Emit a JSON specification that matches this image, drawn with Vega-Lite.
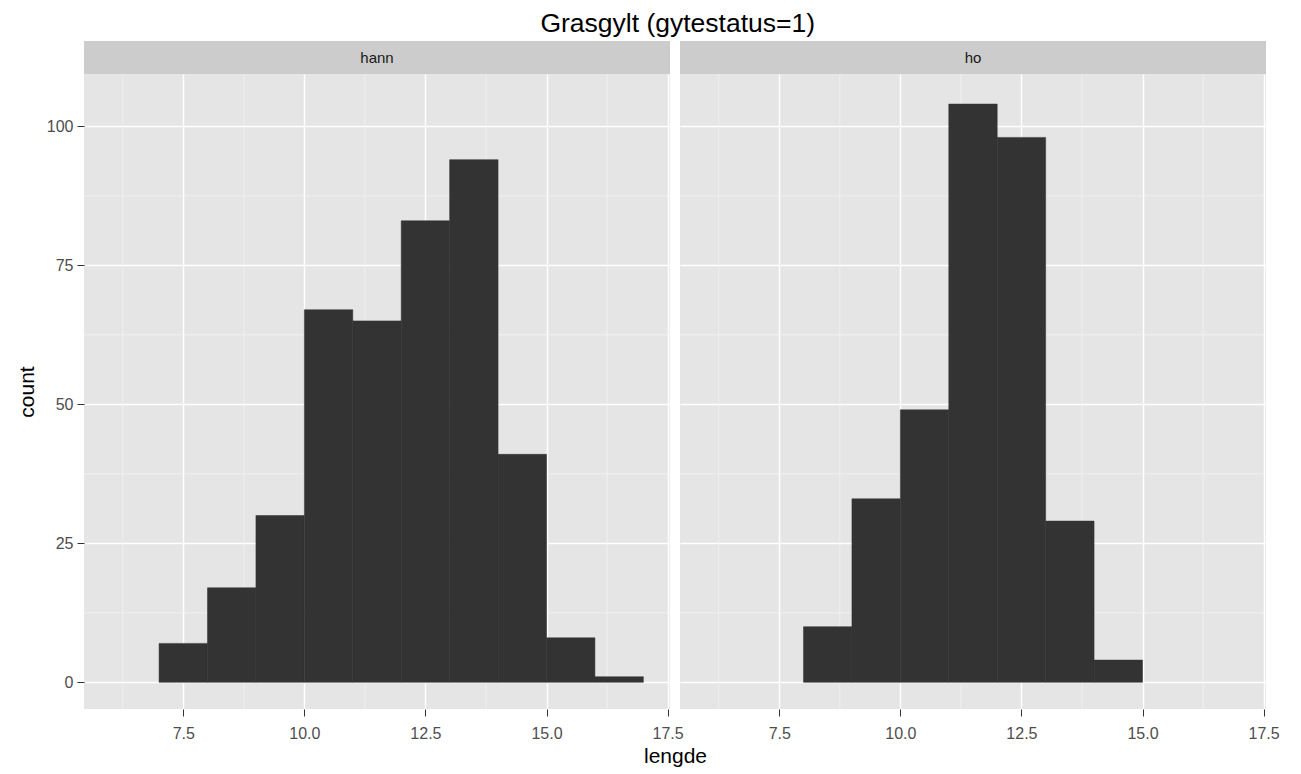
{
  "$schema": "https://vega.github.io/schema/vega-lite/v6.json",
  "background": "white",
  "padding": {"left": 16, "top": 10, "right": 5, "bottom": 5},
  "title": {"text": "Grasgylt (gytestatus=1)", "fontSize": 26.5, "fontWeight": "normal", "color": "black", "anchor": "middle", "dx": 30, "offset": 4},
  "datasets": {
    "bins": [
      {"sex": "hann", "lo": 7, "hi": 8, "count": 7},
      {"sex": "hann", "lo": 8, "hi": 9, "count": 17},
      {"sex": "hann", "lo": 9, "hi": 10, "count": 30},
      {"sex": "hann", "lo": 10, "hi": 11, "count": 67},
      {"sex": "hann", "lo": 11, "hi": 12, "count": 65},
      {"sex": "hann", "lo": 12, "hi": 13, "count": 83},
      {"sex": "hann", "lo": 13, "hi": 14, "count": 94},
      {"sex": "hann", "lo": 14, "hi": 15, "count": 41},
      {"sex": "hann", "lo": 15, "hi": 16, "count": 8},
      {"sex": "hann", "lo": 16, "hi": 17, "count": 1},
      {"sex": "ho", "lo": 8, "hi": 9, "count": 10},
      {"sex": "ho", "lo": 9, "hi": 10, "count": 33},
      {"sex": "ho", "lo": 10, "hi": 11, "count": 49},
      {"sex": "ho", "lo": 11, "hi": 12, "count": 104},
      {"sex": "ho", "lo": 12, "hi": 13, "count": 98},
      {"sex": "ho", "lo": 13, "hi": 14, "count": 29},
      {"sex": "ho", "lo": 14, "hi": 15, "count": 4}
    ],
    "strips": [{"panel": "hann"}, {"panel": "ho"}],
    "minorx": [{"v": 6.25}, {"v": 8.75}, {"v": 11.25}, {"v": 13.75}, {"v": 16.25}],
    "minory": [{"v": 12.5}, {"v": 37.5}, {"v": 62.5}, {"v": 87.5}]
  },
  "columns": 2,
  "align": "each",
  "bounds": "flush",
  "spacing": {"row": 0, "column": 10},
  "concat": [
    {
      "width": 586, "height": 33,
      "data": {"name": "strips"},
      "transform": [{"filter": "datum.panel === 'hann'"}],
      "view": {"fill": "#CCCCCC", "stroke": null},
      "mark": {"type": "text", "fontSize": 15, "color": "#1A1A1A"},
      "encoding": {"text": {"field": "panel"}}
    },
    {
      "width": 586, "height": 33,
      "data": {"name": "strips"},
      "transform": [{"filter": "datum.panel === 'ho'"}],
      "view": {"fill": "#CCCCCC", "stroke": null},
      "mark": {"type": "text", "fontSize": 15, "color": "#1A1A1A"},
      "encoding": {"text": {"field": "panel"}}
    },
    {
      "width": 586, "height": 635,
      "view": {"fill": "#E5E5E5", "stroke": null},
      "resolve": {"axis": {"x": "independent", "y": "independent"}},
      "layer": [
        {
          "data": {"name": "minorx"},
          "mark": {"type": "rule", "color": "#F2F2F2", "strokeWidth": 0.8},
          "encoding": {"x": {"field": "v", "type": "quantitative", "scale": {"domain": [5.45, 17.55], "nice": false, "zero": false}, "axis": null}}
        },
        {
          "data": {"name": "minory"},
          "mark": {"type": "rule", "color": "#F2F2F2", "strokeWidth": 0.8},
          "encoding": {"y": {"field": "v", "type": "quantitative", "scale": {"domain": [-4.8, 109.4], "nice": false, "zero": false}, "axis": null}}
        },
        {
          "data": {"name": "bins"},
          "transform": [{"filter": "datum.sex === 'hann'"}],
          "mark": {"type": "bar", "color": "#333333", "stroke": "#333333", "strokeWidth": 0.5},
          "encoding": {
            "x": {"field": "lo", "type": "quantitative", "scale": {"domain": [5.45, 17.55], "nice": false, "zero": false},
              "axis": {"title": "lengde", "titleX": 591, "titleFontSize": 21, "titleFontWeight": "normal", "titleColor": "black", "titlePadding": 4,
                "values": [7.5, 10, 12.5, 15, 17.5], "format": ".1f", "labelFlush": false, "labelOverlap": false, "labelFontSize": 16, "labelColor": "#4D4D4D", "labelPadding": 9,
                "tickColor": "#333333", "tickSize": 7, "tickWidth": 1, "domain": false, "grid": true, "gridColor": "white", "gridWidth": 1.5}},
            "x2": {"field": "hi"},
            "y": {"field": "count", "type": "quantitative", "scale": {"domain": [-4.8, 109.4], "nice": false, "zero": false},
              "axis": {"title": "count", "titleFontSize": 21, "titleFontWeight": "normal", "titleColor": "black", "titlePadding": 9,
                "values": [0, 25, 50, 75, 100], "labelFontSize": 16, "labelColor": "#4D4D4D", "labelPadding": 4,
                "tickColor": "#333333", "tickSize": 7, "tickWidth": 1, "domain": false, "grid": true, "gridColor": "white", "gridWidth": 1.5}},
            "y2": {"datum": 0}
          }
        }
      ]
    },
    {
      "width": 586, "height": 635,
      "view": {"fill": "#E5E5E5", "stroke": null},
      "resolve": {"axis": {"x": "independent", "y": "independent"}},
      "layer": [
        {
          "data": {"name": "minorx"},
          "mark": {"type": "rule", "color": "#F2F2F2", "strokeWidth": 0.8},
          "encoding": {"x": {"field": "v", "type": "quantitative", "scale": {"domain": [5.45, 17.55], "nice": false, "zero": false}, "axis": null}}
        },
        {
          "data": {"name": "minory"},
          "mark": {"type": "rule", "color": "#F2F2F2", "strokeWidth": 0.8},
          "encoding": {"y": {"field": "v", "type": "quantitative", "scale": {"domain": [-4.8, 109.4], "nice": false, "zero": false}, "axis": null}}
        },
        {
          "data": {"name": "bins"},
          "transform": [{"filter": "datum.sex === 'ho'"}],
          "mark": {"type": "bar", "color": "#333333", "stroke": "#333333", "strokeWidth": 0.5},
          "encoding": {
            "x": {"field": "lo", "type": "quantitative", "scale": {"domain": [5.45, 17.55], "nice": false, "zero": false},
              "axis": {"title": null,
                "values": [7.5, 10, 12.5, 15, 17.5], "format": ".1f", "labelFlush": false, "labelOverlap": false, "labelFontSize": 16, "labelColor": "#4D4D4D", "labelPadding": 9,
                "tickColor": "#333333", "tickSize": 7, "tickWidth": 1, "domain": false, "grid": true, "gridColor": "white", "gridWidth": 1.5}},
            "x2": {"field": "hi"},
            "y": {"field": "count", "type": "quantitative", "scale": {"domain": [-4.8, 109.4], "nice": false, "zero": false},
              "axis": {"title": null, "values": [0, 25, 50, 75, 100], "labels": false, "ticks": false, "domain": false, "grid": true, "gridColor": "white", "gridWidth": 1.5}},
            "y2": {"datum": 0}
          }
        }
      ]
    }
  ],
  "config": {"font": "Liberation Sans", "view": {"stroke": null}}
}
